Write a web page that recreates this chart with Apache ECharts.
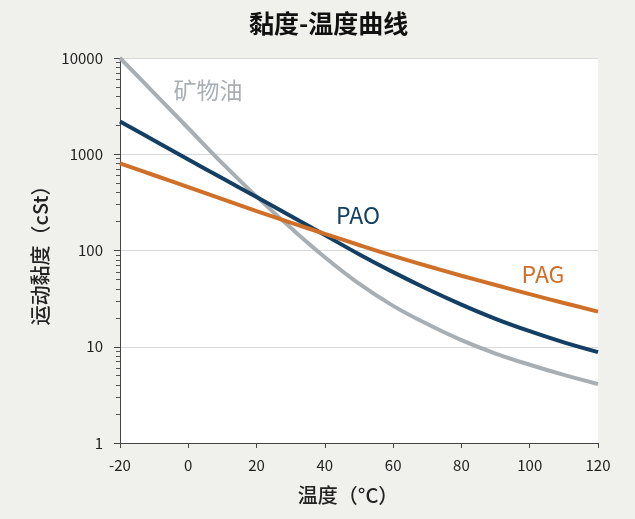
<!DOCTYPE html>
<html>
<head>
<meta charset="utf-8">
<script src="https://cdn.jsdelivr.net/npm/echarts@6/dist/echarts.min.js"></script>
<style>
  html, body { margin: 0; padding: 0; background: #f0f0ec; }
  #chart { width: 635px; height: 519px; }
</style>
</head>
<body>
<div id="chart"></div>
<script>
// temperatures (°C)
var temps = [-20, -10, 0, 10, 20, 30, 40, 50, 60, 70, 80, 90, 100, 110, 120]
// kinematic viscosity (cSt)
var mineralOil = [10000, 4315, 1862, 803, 363, 172, 85, 45.2, 26.6, 17.2, 11.7, 8.5, 6.5, 5.1, 4.1]
var pao = [2188, 1390, 883, 562, 360, 228, 144.5, 91.6, 59.6, 39.8, 27.4, 19.5, 14.5, 11.1, 8.8]
var pag = [805, 605, 455, 342, 257, 195, 149, 114, 88, 69, 54.7, 43.8, 35.2, 28.5, 23.2]
var yTickLabels = ['1', '10', '100', '1000', '10000']

var font = 'Noto Sans CJK SC'

function pairs(vals) {
  return temps.map(function (t, i) { return [t, vals[i]] })
}

// in-plot series name, anchored in data coordinates
function tag(text, coord, color) {
  return {
    silent: true,
    symbol: 'circle',
    symbolSize: 1,
    itemStyle: { color: 'transparent' },
    data: [{
      coord: coord,
      label: {
        show: true,
        position: 'inside',
        formatter: text,
        color: color,
        fontSize: 23,
        fontFamily: font
      }
    }]
  }
}

var chart = echarts.init(document.getElementById('chart'))
chart.setOption({
  backgroundColor: '#f0f0ec',
  animation: false,
  title: {
    text: '黏度-温度曲线',
    left: 244,
    top: 6,
    textStyle: { fontSize: 25, fontWeight: 'bold', color: '#111', fontFamily: font }
  },
  grid: {
    left: 120,
    right: 37,
    top: 58,
    bottom: 76,
    show: true,
    backgroundColor: '#ffffff',
    borderWidth: 0
  },
  xAxis: {
    type: 'value',
    min: -20,
    max: 120,
    interval: 20,
    name: '温度（°C）',
    nameLocation: 'middle',
    nameGap: 42,
    nameTextStyle: { fontSize: 20, color: '#222', fontFamily: font, fontWeight: 500, padding: [0, 22, 0, 0] },
    axisLine: { onZero: false, lineStyle: { color: '#444', width: 1 } },
    axisTick: { show: true, length: 5, lineStyle: { color: '#444' } },
    axisLabel: { fontSize: 15, color: '#222', margin: 15, fontFamily: font },
    splitLine: { show: false }
  },
  yAxis: {
    type: 'log',
    logBase: 10,
    min: 1,
    max: 10000,
    name: '运动黏度（cSt）',
    nameLocation: 'middle',
    nameGap: 66,
    nameTextStyle: { fontSize: 20, color: '#222', fontFamily: font, fontWeight: 500 },
    axisLine: { show: true, onZero: false, lineStyle: { color: '#444', width: 1 } },
    axisTick: { show: true, length: 6, lineStyle: { color: '#444' } },
    minorTick: { show: true, splitNumber: 9, length: 4, lineStyle: { color: '#555' } },
    axisLabel: {
      fontSize: 15,
      color: '#222',
      margin: 17,
      fontFamily: font,
      formatter: function (v) {
        var i = Math.round(Math.log10(v))
        return yTickLabels[i] || ''
      }
    },
    splitLine: { show: true, lineStyle: { color: '#d9d9d9', width: 1 } }
  },
  series: [
    {
      name: '矿物油',
      type: 'line',
      data: pairs(mineralOil),
      smooth: 0.4,
      showSymbol: false,
      lineStyle: { color: '#a9aeb3', width: 4 },
      markPoint: tag('矿物油', [5.8, 4650], '#a9aeb3')
    },
    {
      name: 'PAO',
      type: 'line',
      data: pairs(pao),
      smooth: 0.4,
      showSymbol: false,
      lineStyle: { color: '#123f63', width: 4 },
      markPoint: tag('PAO', [49.7, 234], '#123f63')
    },
    {
      name: 'PAG',
      type: 'line',
      data: pairs(pag),
      smooth: 0.4,
      showSymbol: false,
      lineStyle: { color: '#cf6f28', width: 4 },
      markPoint: tag('PAG', [103.9, 57], '#cf6f28')
    }
  ]
})
</script>
</body>
</html>
